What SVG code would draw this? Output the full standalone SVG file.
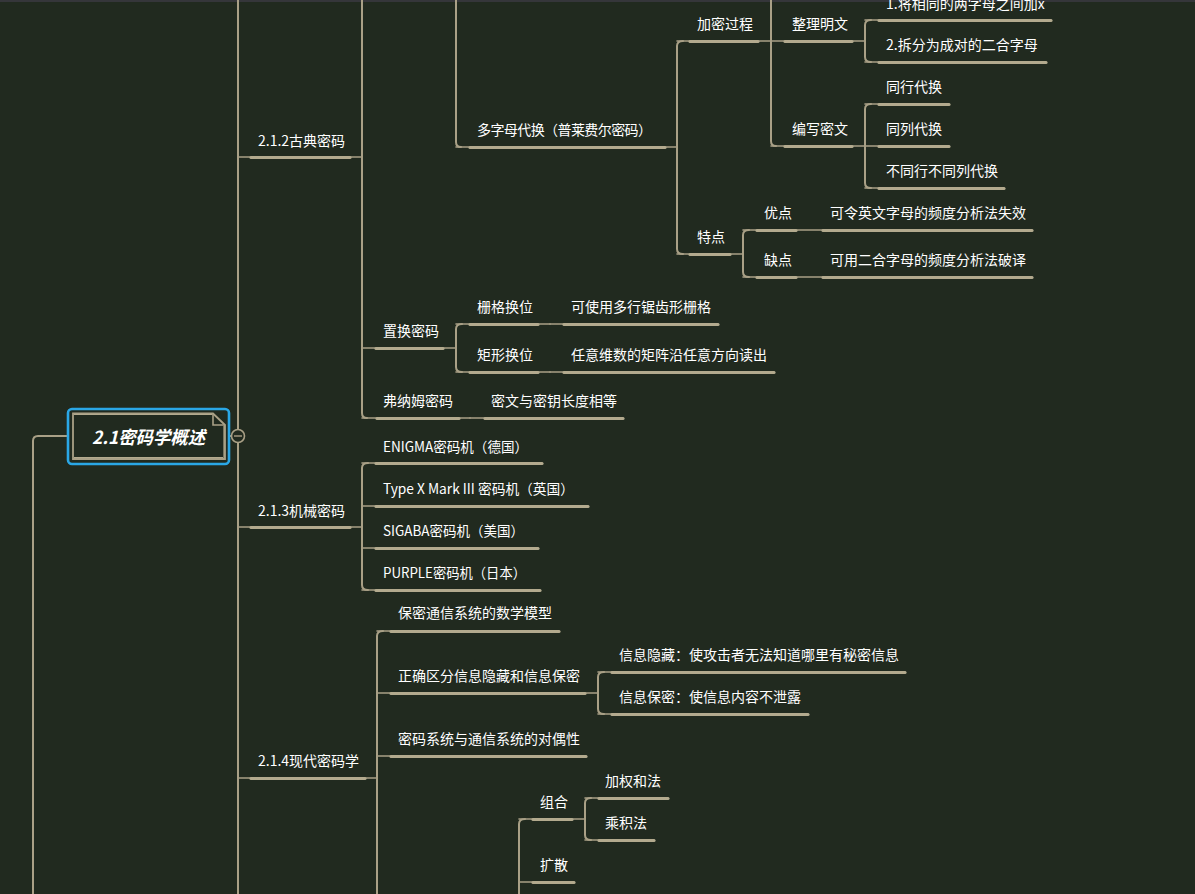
<svg xmlns="http://www.w3.org/2000/svg" width="1195" height="894" viewBox="0 0 1195 894">
<style>
.bg{fill:#212a1f}
.ln{stroke:#a9a086;stroke-width:2;fill:none;stroke-linecap:round;stroke-linejoin:round}
.th{stroke:#a9a086;stroke-width:1.6;fill:none;stroke-linecap:round}
.tk{stroke:#b3aa8e;stroke-width:3.2;fill:none;stroke-linecap:round}
.t{font-family:"Noto Sans CJK SC","Noto Sans",sans-serif;font-size:14px;fill:#ffffff}
.title{font-family:"Noto Sans CJK SC","Noto Sans",sans-serif;font-size:18px;font-weight:bold;font-style:italic;fill:#ffffff}
</style>
<rect class="bg" x="0" y="0" width="1195" height="894"/>
<rect x="0" y="0" width="1195" height="2" fill="#35363a"/>

<g id="connectors">
<path class="ln" d="M68 436 H38 Q33 436 33 441 V894"/>
<path class="ln" d="M238 0 V894"/>
<path class="ln" d="M229 436 H232"/>
<path class="ln" d="M362 0 V413 Q362 418 367 418"/>
<path class="ln" d="M456 0 V142 Q456 147 461 147"/>
<path class="ln" d="M683 41 Q677 41 677 46 V249 Q677 254 683 254"/>
<path class="ln" d="M771 0 V141 Q771 146 776 146"/>
<path class="ln" d="M871 20 Q865 20 865 25 V57 Q865 62 871 62"/>
<path class="ln" d="M871 104 Q865 104 865 109 V183 Q865 188 871 188"/>
<path class="ln" d="M749 230 Q743 230 743 235 V272 Q743 277 749 277"/>
<path class="ln" d="M462 324 Q456 324 456 329 V367 Q456 372 462 372"/>
<path class="ln" d="M368 463 Q362 463 362 468 V585 Q362 590 368 590"/>
<path class="ln" d="M383 631 Q377 631 377 636 V894"/>
<path class="ln" d="M604 672 Q598 672 598 677 V709 Q598 714 604 714"/>
<path class="ln" d="M525 819 Q519 819 519 824 V894"/>
<path class="ln" d="M591 798 Q585 798 585 803 V835 Q585 840 591 840"/>
</g>

<g id="root">
<rect x="68" y="409" width="161" height="55" rx="4" fill="none" stroke="#2aa7e6" stroke-width="2.6"/>
<path d="M73 413.5 H213 L225 425 V459 H73 Z" fill="#212a1f" stroke="#a9a086" stroke-width="1.8"/>
<path d="M74 414.5 H212 M224 426 V458 M74 457.5 H223" fill="none" stroke="#b3aa8e" stroke-width="1.2"/>
<path d="M213 413.5 V425 H225" fill="none" stroke="#a9a086" stroke-width="1.6"/>
<text class="title" x="92" y="444" textLength="113" lengthAdjust="spacingAndGlyphs">2.1密码学概述</text>
<circle cx="238" cy="436" r="6.5" fill="#212a1f" stroke="#a9a086" stroke-width="1.6"/>
<path d="M234 436 H242" stroke="#a9a086" stroke-width="1.4"/>
</g>

<g id="n212"><text class="t" x="258" y="146">2.1.2古典密码</text><path class="th" d="M238 157 H362"/><path class="tk" d="M251 157.5 H350"/></g>
<g id="n-multi"><text class="t" x="477" y="135" textLength="175" lengthAdjust="spacing">多字母代换（普莱费尔密码）</text><path class="th" d="M456 147 H677"/><path class="tk" d="M470 147.5 H665"/></g>
<g id="n-jiami"><text class="t" x="697" y="29">加密过程</text><path class="th" d="M677 41 H771"/><path class="tk" d="M690 41.5 H758"/></g>
<g id="n-zhengli"><text class="t" x="792" y="29">整理明文</text><path class="th" d="M771 41 H865"/><path class="tk" d="M785 41.5 H852"/></g>
<g id="n-z1"><text class="t" x="886" y="9">1.将相同的两字母之间加x</text><path class="th" d="M865 20 H1051"/><path class="tk" d="M879 20.5 H1051"/></g>
<g id="n-z2"><text class="t" x="886" y="50">2.拆分为成对的二合字母</text><path class="th" d="M865 62 H1046"/><path class="tk" d="M879 62.5 H1046"/></g>
<g id="n-bianxie"><text class="t" x="792" y="134">编写密文</text><path class="th" d="M771 146 H865"/><path class="tk" d="M785 146.5 H852"/></g>
<g id="n-b1"><text class="t" x="886" y="92">同行代换</text><path class="th" d="M865 104 H949"/><path class="tk" d="M879 104.5 H949"/></g>
<g id="n-b2"><text class="t" x="886" y="134">同列代换</text><path class="th" d="M865 146 H949"/><path class="tk" d="M879 146.5 H949"/></g>
<g id="n-b3"><text class="t" x="886" y="176">不同行不同列代换</text><path class="th" d="M865 188 H1004"/><path class="tk" d="M879 188.5 H1004"/></g>
<g id="n-tedian"><text class="t" x="697" y="242">特点</text><path class="th" d="M677 254 H743"/><path class="tk" d="M690 254.5 H730"/></g>
<g id="n-youdian"><text class="t" x="764" y="218">优点</text><path class="th" d="M743 230 H823"/><path class="tk" d="M757 230.5 H796"/></g>
<g id="n-yd1"><text class="t" x="830" y="218">可令英文字母的频度分析法失效</text><path class="th" d="M823 230 H1032"/><path class="tk" d="M823 230.5 H1032"/></g>
<g id="n-quedian"><text class="t" x="764" y="265">缺点</text><path class="th" d="M743 277 H823"/><path class="tk" d="M757 277.5 H796"/></g>
<g id="n-qd1"><text class="t" x="830" y="265">可用二合字母的频度分析法破译</text><path class="th" d="M823 277 H1032"/><path class="tk" d="M823 277.5 H1032"/></g>
<g id="n-zhihuan"><text class="t" x="383" y="336">置换密码</text><path class="th" d="M362 348 H456"/><path class="tk" d="M376 348.5 H443"/></g>
<g id="n-shange"><text class="t" x="477" y="312">栅格换位</text><path class="th" d="M456 324 H550"/><path class="tk" d="M470 324.5 H538"/></g>
<g id="n-sg1"><text class="t" x="571" y="312">可使用多行锯齿形栅格</text><path class="th" d="M550 324 H718"/><path class="tk" d="M564 324.5 H718"/></g>
<g id="n-juxing"><text class="t" x="477" y="360">矩形换位</text><path class="th" d="M456 372 H550"/><path class="tk" d="M470 372.5 H538"/></g>
<g id="n-jx1"><text class="t" x="571" y="360">任意维数的矩阵沿任意方向读出</text><path class="th" d="M550 372 H774"/><path class="tk" d="M564 372.5 H774"/></g>
<g id="n-funamu"><text class="t" x="383" y="406">弗纳姆密码</text><path class="th" d="M362 418 H470"/><path class="tk" d="M377 418.5 H459"/></g>
<g id="n-fn1"><text class="t" x="491" y="406">密文与密钥长度相等</text><path class="th" d="M470 418 H623"/><path class="tk" d="M485 418.5 H623"/></g>
<g id="n213"><text class="t" x="258" y="516">2.1.3机械密码</text><path class="th" d="M238 527 H362"/><path class="tk" d="M251 527.5 H350"/></g>
<g id="n-enigma"><text class="t" x="383" y="452" textLength="145" lengthAdjust="spacingAndGlyphs">ENIGMA密码机（德国）</text><path class="th" d="M362 463 H542"/><path class="tk" d="M376 463.5 H542"/></g>
<g id="n-typex"><text class="t" x="383" y="494" textLength="191" lengthAdjust="spacingAndGlyphs">Type X Mark III 密码机（英国）</text><path class="th" d="M362 506 H588"/><path class="tk" d="M376 506.5 H588"/></g>
<g id="n-sigaba"><text class="t" x="383" y="536" textLength="141" lengthAdjust="spacingAndGlyphs">SIGABA密码机（美国）</text><path class="th" d="M362 548 H538"/><path class="tk" d="M376 548.5 H538"/></g>
<g id="n-purple"><text class="t" x="383" y="578" textLength="143" lengthAdjust="spacingAndGlyphs">PURPLE密码机（日本）</text><path class="th" d="M362 590 H540"/><path class="tk" d="M376 590.5 H540"/></g>
<g id="n214"><text class="t" x="258" y="766">2.1.4现代密码学</text><path class="th" d="M238 778 H377"/><path class="tk" d="M251 778.5 H365"/></g>
<g id="n-m1"><text class="t" x="398" y="618">保密通信系统的数学模型</text><path class="th" d="M377 631 H559"/><path class="tk" d="M391 631.5 H559"/></g>
<g id="n-m2"><text class="t" x="398" y="681">正确区分信息隐藏和信息保密</text><path class="th" d="M377 693 H598"/><path class="tk" d="M391 693.5 H585"/></g>
<g id="n-m21"><text class="t" x="619" y="660">信息隐藏：使攻击者无法知道哪里有秘密信息</text><path class="th" d="M598 672 H905"/><path class="tk" d="M612 672.5 H905"/></g>
<g id="n-m22"><text class="t" x="619" y="702">信息保密：使信息内容不泄露</text><path class="th" d="M598 714 H808"/><path class="tk" d="M612 714.5 H808"/></g>
<g id="n-m3"><text class="t" x="398" y="744">密码系统与通信系统的对偶性</text><path class="th" d="M377 756 H586"/><path class="tk" d="M391 756.5 H586"/></g>
<g id="n-zuhe"><text class="t" x="540" y="807">组合</text><path class="th" d="M519 819 H585"/><path class="tk" d="M533 819.5 H572"/></g>
<g id="n-jiaquan"><text class="t" x="605" y="786">加权和法</text><path class="th" d="M585 798 H668"/><path class="tk" d="M599 798.5 H668"/></g>
<g id="n-chengji"><text class="t" x="605" y="828">乘积法</text><path class="th" d="M585 840 H654"/><path class="tk" d="M599 840.5 H654"/></g>
<g id="n-kuosan"><text class="t" x="540" y="870">扩散</text><path class="th" d="M519 882 H574"/><path class="tk" d="M533 882.5 H574"/></g>
</svg>
